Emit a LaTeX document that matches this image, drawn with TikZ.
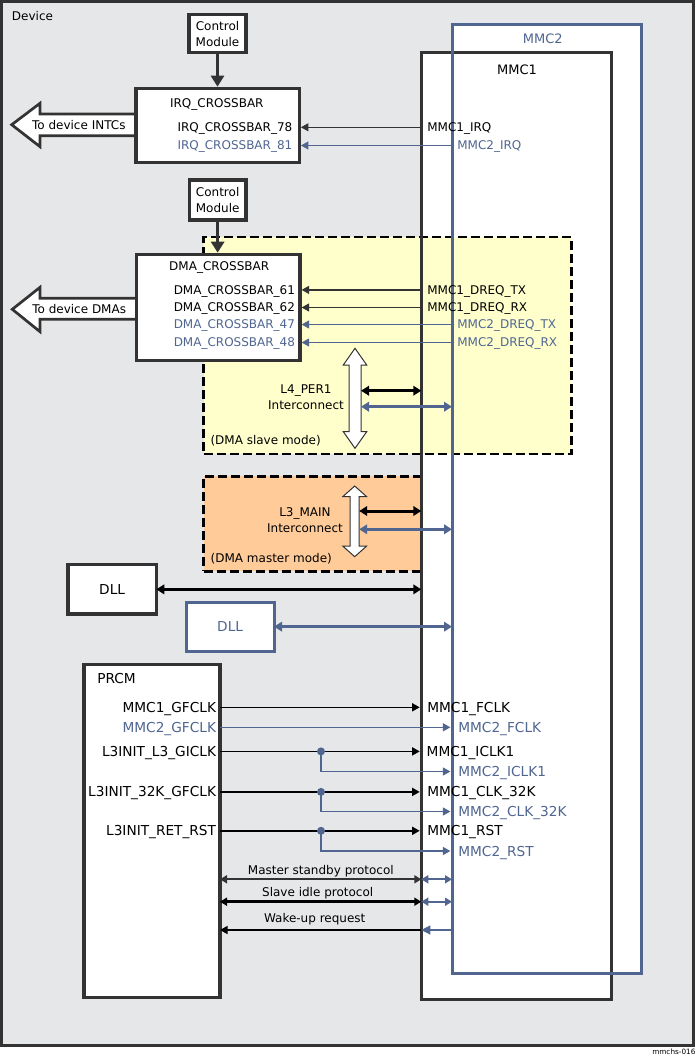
\documentclass[tikz,border=0pt]{standalone}
\usepackage{fontspec}
\setmainfont{DejaVu Sans}
\usetikzlibrary{arrows.meta}
\definecolor{dk}{HTML}{333333}
\definecolor{bl}{HTML}{506691}
\definecolor{bgc}{HTML}{E6E7E9}
\definecolor{yel}{HTML}{FFFFCC}
\definecolor{org}{HTML}{FFCC99}
\tikzset{
  every node/.style={inner sep=0pt, outer sep=0pt},
  box/.style={draw=dk, fill=white, line width=3.3pt},
  bbox/.style={draw=bl, fill=white, line width=3pt},
  lbl/.style={text height=8.75pt, text depth=0pt},
  blbl/.style={lbl, text=bl},
  lblL/.style={text height=10pt, text depth=0pt, font=\fontsize{13.7}{16}\selectfont},
  blblL/.style={lblL, text=bl},
  sig/.style={draw=dk, line width=1.2pt, ->, >={Triangle[length=7.5pt,width=8pt]}, shorten >=1.6pt},
  bsig/.style={sig, draw=bl},
  psig/.style={draw=black, line width=1.5pt, ->, >={Triangle[length=7.5pt,width=8pt]}, shorten >=1.6pt},
  bpsig/.style={psig, draw=bl, line width=1.3pt},
  thk/.style={draw=black, line width=3pt, <->, >={Triangle[length=8pt,width=9.5pt]}},
  thkb/.style={thk, draw=bl},
  hollow/.style={draw=dk, fill=white, line width=2.7pt, line join=miter},
  vhollow/.style={draw=dk, fill=white, line width=1pt},
  dashbox/.style={draw=black, line width=2.7pt, dash pattern=on 9pt off 4pt},
  dot/.style={circle, fill=bl, minimum size=8pt},
  proto/.style={line width=2.2pt, <->, >={Triangle[length=7pt,width=8pt]}},
}
\begin{document}
\begin{tikzpicture}[x=1pt,y=-1pt,font=\fontsize{12}{16}\selectfont]
\useasboundingbox (0,0) rectangle (696,1055);
% Device frame
\node[draw=dk, fill=bgc, line width=3.4pt, minimum width=692pt, minimum height=1043.6pt] (dev) at (347.3,523.5) {};
\node[lbl, anchor=west] (devl) at (12,16.2) {Device};
% MMC fills
\node[fill=white, minimum width=189.3pt, minimum height=948.3pt] (mmc2) at (546.65,498.85) {};
\node[fill=white, minimum width=190pt, minimum height=947.3pt] (mmc1) at (516.3,525.65) {};
% interconnect regions
\node[fill=yel, dashbox, minimum width=367.5pt, minimum height=217pt] (l4box) at (387.55,345.5) {};
\node[fill=org, dashbox, minimum width=217.6pt, minimum height=95pt] (l3box) at (312.5,523.7) {};
% MMC borders
\draw[dk, line width=3pt] (mmc1.north west) rectangle (mmc1.south east);
\draw[bl, line width=3pt] (mmc2.north west) rectangle (mmc2.south east);
\node[font=\fontsize{13}{15}\selectfont, text height=9.5pt, text depth=0pt] (m1t) at (517,70) {MMC1};
\node[font=\fontsize{13}{15}\selectfont, text height=9.5pt, text depth=0pt, text=bl] (m2t) at (542.7,39.2) {MMC2};
% big hollow arrows
\draw[hollow] (137,114) -- (40,114) -- (40,103.3) -- (11.7,124.7) -- (40,146.7) -- (40,135.7) -- (137,135.7);
\node[lbl] (intc) at (78.8,125) {To device INTCs};
\draw[hollow] (137,298.3) -- (40,298.3) -- (40,287.3) -- (12.3,309.3) -- (40,331.7) -- (40,319.3) -- (137,319.3);
\node[lbl] (dmas) at (79.2,308.7) {To device DMAs};
% boxes
\node[box, minimum width=57pt, minimum height=38.4pt, align=center] (cm1) at (217.5,33.55) {Control\\Module};
\node[box, minimum width=163.3pt, minimum height=74.4pt] (irq) at (217.65,125.5) {};
\node[box, minimum width=56.7pt, minimum height=40pt, align=center] (cm2) at (217.65,200) {Control\\Module};
\node[box, minimum width=163.3pt, minimum height=106.4pt] (dma) at (218.35,307.5) {};
\node[box, minimum width=88.3pt, minimum height=49.3pt, font=\fontsize{13.7}{16}\selectfont] (dll1) at (112.15,589.35) {DLL};
\node[bbox, minimum width=87.7pt, minimum height=49.3pt, text=bl, font=\fontsize{13.7}{16}\selectfont] (dll2) at (230.15,626.65) {DLL};
\node[box, minimum width=136pt, minimum height=333.2pt] (prcm) at (152,830.9) {};
% control module arrows
\draw[dk, line width=3.3pt, ->, >={Triangle[length=11pt,width=13pt]}, shorten >=1.6pt] (cm1.south) -- (cm1.south |- irq.north);
\draw[dk, line width=3.3pt, ->, >={Triangle[length=11pt,width=13pt]}, shorten >=1.6pt] (cm2.south) -- (cm2.south |- dma.north);
% IRQ crossbar
\node[lbl] (irqt) at (216.8,103.3) {IRQ\_CROSSBAR};
\node[lbl, anchor=east] (i78) at (292.3,127.3) {IRQ\_CROSSBAR\_78};
\node[blbl, anchor=east] (i81) at (292.3,145.5) {IRQ\_CROSSBAR\_81};
\node[lbl, anchor=west] (m1irq) at (427.3,127.3) {MMC1\_IRQ};
\node[blbl, anchor=west] (m2irq) at (457.3,145.5) {MMC2\_IRQ};
\draw[sig] (mmc1.west |- m1irq.west) -- (irq.east |- m1irq.west);
\draw[bsig] (mmc2.west |- m2irq.west) -- (irq.east |- m2irq.west);
% DMA crossbar
\node[lbl] (dmat) at (219.2,265.7) {DMA\_CROSSBAR};
\node[lbl, anchor=east] (d61) at (295,289.9) {DMA\_CROSSBAR\_61};
\node[lbl, anchor=east] (d62) at (295,307.5) {DMA\_CROSSBAR\_62};
\node[blbl, anchor=east] (d47) at (295,324.5) {DMA\_CROSSBAR\_47};
\node[blbl, anchor=east] (d48) at (295,342.5) {DMA\_CROSSBAR\_48};
\node[lbl, anchor=west] (m1tx) at (427.3,289.9) {MMC1\_DREQ\_TX};
\node[lbl, anchor=west] (m1rx) at (427.3,307.5) {MMC1\_DREQ\_RX};
\node[blbl, anchor=west] (m2tx) at (457.3,324.5) {MMC2\_DREQ\_TX};
\node[blbl, anchor=west] (m2rx) at (457.3,342.5) {MMC2\_DREQ\_RX};
\draw[sig] (mmc1.west |- m1tx.west) -- (dma.east |- m1tx.west);
\draw[sig] (mmc1.west |- m1rx.west) -- (dma.east |- m1rx.west);
\draw[bsig] (mmc2.west |- m2tx.west) -- (dma.east |- m2tx.west);
\draw[bsig] (mmc2.west |- m2rx.west) -- (dma.east |- m2rx.west);
% L4_PER1
\draw[vhollow] (355,348.3) -- (366.7,365) -- (361,365) -- (361,431.7) -- (366.7,431.7) -- (355,448.3) -- (343.3,431.7) -- (349,431.7) -- (349,365) -- (343.3,365) -- cycle;
\node[align=center] (l4t) at (306,397) {L4\_PER1\\Interconnect};
\node[lbl, anchor=west] (l4m) at (210.5,440) {(DMA slave mode)};
\coordinate (l4a) at (361,390.7);
\coordinate (l4b) at (361,406.7);
\draw[thk] (l4a) -- (mmc1.west |- l4a);
\draw[thkb] (l4b) -- (mmc2.west |- l4b);
% L3_MAIN
\draw[vhollow] (354.7,486) -- (366.7,496.7) -- (359.2,496.7) -- (359.2,546) -- (366.7,546) -- (354.7,556.7) -- (342.7,546) -- (350.2,546) -- (350.2,496.7) -- (342.7,496.7) -- cycle;
\node[align=center] (l3t) at (305,520.5) {L3\_MAIN\\Interconnect};
\node[lbl, anchor=west] (l3m) at (210.7,558.3) {(DMA master mode)};
\coordinate (l3a) at (359.2,511);
\coordinate (l3b) at (359.2,529.3);
\draw[thk] (l3a) -- (mmc1.west |- l3a);
\draw[thkb] (l3b) -- (mmc2.west |- l3b);
% DLLs
\draw[thk] (dll1.east) -- (mmc1.west |- dll1.east);
\draw[thkb] (dll2.east) -- (mmc2.west |- dll2.east);
% PRCM
\node[lblL, anchor=west] (prl) at (97.3,678.3) {PRCM};
\node[lblL, anchor=east] (p1) at (216,707.3) {MMC1\_GFCLK};
\node[blblL, anchor=east] (p2) at (216,727.3) {MMC2\_GFCLK};
\node[lblL, anchor=east] (p3) at (216,751.4) {L3INIT\_L3\_GICLK};
\node[lblL, anchor=east] (p4) at (216,791.9) {L3INIT\_32K\_GFCLK};
\node[lblL, anchor=east] (p5) at (216,830.8) {L3INIT\_RET\_RST};
\node[lblL, anchor=west] (m1f) at (427.3,707.3) {MMC1\_FCLK};
\node[blblL, anchor=west] (m2f) at (458.3,727.3) {MMC2\_FCLK};
\node[lblL, anchor=west] (m1i) at (426.7,751.4) {MMC1\_ICLK1};
\node[blblL, anchor=west] (m2i) at (458.3,771.5) {MMC2\_ICLK1};
\node[lblL, anchor=west] (m1c) at (427.3,791.9) {MMC1\_CLK\_32K};
\node[blblL, anchor=west] (m2c) at (458.3,811.5) {MMC2\_CLK\_32K};
\node[lblL, anchor=west] (m1r) at (427.3,830.8) {MMC1\_RST};
\node[blblL, anchor=west] (m2r) at (458.3,851) {MMC2\_RST};
\draw[psig] (prcm.east |- p1.east) -- (mmc1.west |- p1.east);
\draw[bpsig] (prcm.east |- p2.east) -- (mmc2.west |- p2.east);
\draw[psig] (prcm.east |- p3.east) -- (mmc1.west |- p3.east);
\draw[psig] (prcm.east |- p4.east) -- (mmc1.west |- p4.east);
\draw[psig] (prcm.east |- p5.east) -- (mmc1.west |- p5.east);
\coordinate (dt1) at (321,751.4);
\coordinate (dt2) at (321,791.9);
\coordinate (dt3) at (321,830.8);
\draw[bpsig] (dt1) |- (mmc2.west |- m2i.west);
\draw[bpsig] (dt2) |- (mmc2.west |- m2c.west);
\draw[bpsig] (dt3) |- (mmc2.west |- m2r.west);
\node[dot] (dot1) at (dt1) {};
\node[dot] (dot2) at (dt2) {};
\node[dot] (dot3) at (dt3) {};
% protocols
\node[lbl] (msl) at (320.8,870) {Master standby protocol};
\node[lbl] (sil) at (317.7,892.3) {Slave idle protocol};
\node[lbl] (wul) at (314.7,918.3) {Wake-up request};
\draw[proto, draw=dk] (prcm.east |- 0,879.3) -- (mmc1.west |- 0,879.3);
\draw[proto, draw=bl] (mmc1.west |- 0,879.3) -- (mmc2.west |- 0,879.3);
\draw[proto, draw=black, line width=2.5pt] (prcm.east |- 0,901.7) -- (mmc1.west |- 0,901.7);
\draw[proto, draw=bl] (mmc1.west |- 0,901.7) -- (mmc2.west |- 0,901.7);
\draw[draw=black, line width=1.3pt, ->, >={Triangle[length=7.5pt,width=8pt]}] (mmc1.west |- 0,930) -- (prcm.east |- 0,930);
\draw[draw=bl, line width=1.3pt, ->, >={Triangle[length=9pt,width=9pt]}] (mmc2.west |- 0,930) -- (mmc1.west |- 0,930);
% figure id
\node[anchor=base east, font=\fontsize{7.3}{8}\selectfont] (fig) at (695.5,1054) {mmchs-016};
\end{tikzpicture}
\end{document}
